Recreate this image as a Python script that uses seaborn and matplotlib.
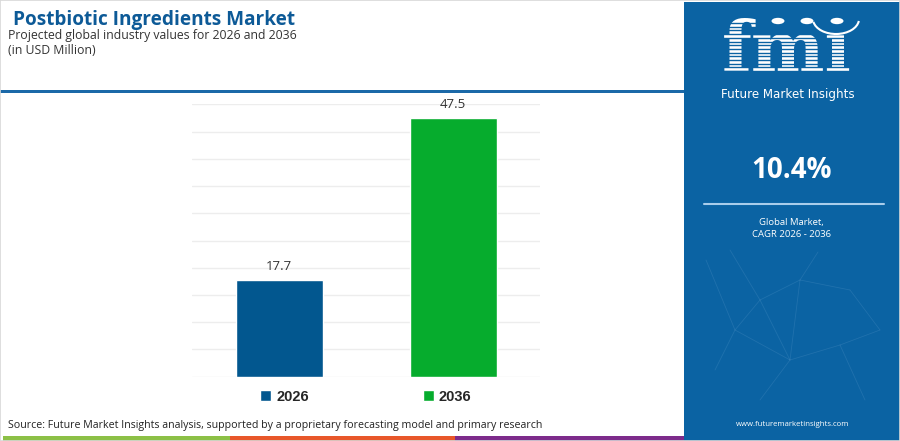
import matplotlib
matplotlib.use("Agg")
import matplotlib.pyplot as plt
import seaborn as sns
import pandas as pd
from matplotlib.patches import Rectangle, Circle, Arc
from matplotlib.lines import Line2D

# ---- data ----
years = ["2026", "2036"]
values = [17.7, 47.5]
bar_colors = ["#02578F", "#06AC2D"]
title = "Postbiotic Ingredients Market"
subtitle = "Projected global industry values for 2026 and 2036"
unit = "(in USD Million)"
cagr = "10.4%"
source = "Source: Future Market Insights analysis, supported by a proprietary forecasting model and primary research"

sns.set_theme(style="white")
plt.rcParams["font.family"] = ["Open Sans", "DejaVu Sans"]

W, H = 900, 441
fig = plt.figure(figsize=(9, 4.41), dpi=100)
fig.patch.set_facecolor("white")

def fx(px):
    return px / W

def fy(py):
    return 1 - py / H

# right panel
panel_col = "#0B63A3"
fig.add_artist(Rectangle((fx(684), 0), 1 - fx(684), fy(2), transform=fig.transFigure,
                         facecolor=panel_col, edgecolor="none", zorder=0))
# header separator line
fig.add_artist(Rectangle((0, fy(92.5)), fx(684), 3 / H, transform=fig.transFigure,
                         facecolor="#1B69A8", edgecolor="none", zorder=1))
# bottom color strip
for x0, x1, c in [(3, 230, "#8CC046"), (230, 455, "#E8572A"), (455, 684, "#7D2B8B")]:
    fig.add_artist(Rectangle((fx(x0), 0), fx(x1 - x0), 5 / H, transform=fig.transFigure,
                             facecolor=c, edgecolor="none", zorder=1))
# light border
fig.add_artist(Rectangle((0, 0), 1, 1, transform=fig.transFigure, facecolor="none",
                         edgecolor="#D8D8D8", linewidth=1.2, zorder=5))

# titles
fig.text(fx(13), fy(20), title, fontsize=13.7, fontweight="bold", color="#0D5A97",
         va="center", ha="left")
fig.text(fx(8), fy(35), subtitle, fontsize=8.8, color="#333333", va="center", ha="left")
fig.text(fx(8), fy(51), unit, fontsize=8.8, color="#333333", va="center", ha="left")

# ---- bar chart ----
ax = fig.add_axes([fx(192), 1 - 376.7 / H, fx(348), (376.7 - 104.3) / H])
df = pd.DataFrame({"year": years, "value": values})
sns.barplot(data=df, x="year", y="value", hue="year", palette=bar_colors, width=0.5,
            ax=ax, legend=True, saturation=1)
ax.set_ylim(0, 50)
ax.set_xlim(-0.5, 1.5)
ax.set_yticks(range(0, 51, 5))
ax.yaxis.grid(True, color="#EDEDED", linewidth=1)
ax.set_axisbelow(True)
for s in ax.spines.values():
    s.set_visible(False)
ax.set_xticks([])
ax.set_yticklabels([])
ax.tick_params(left=False, bottom=False)
ax.set_xlabel("")
ax.set_ylabel("")
for cont in ax.containers:
    ax.bar_label(cont, fmt="%.1f", padding=5, fontsize=9.5, color="#333333")

handles, labels = ax.get_legend_handles_labels()
ax.legend(handles, labels, loc="center", bbox_to_anchor=(0.5, (1 - 396.7 / H - (1 - 376.7 / H)) / ((376.7 - 104.3) / H)),
          ncol=2, frameon=False, handlelength=0.75, handleheight=0.75, handletextpad=0.35,
          columnspacing=7.8, prop={"family": "Liberation Sans", "weight": "bold", "size": 10.5})

fig.text(fx(8), fy(425.5), source, fontsize=7.7, color="#222222", va="center", ha="left")

# ---- right panel content ----
# network decoration
net = [((706, 260), (735, 330)), ((735, 330), (760, 300)), ((760, 300), (800, 280)),
       ((800, 280), (850, 290)), ((850, 290), (880, 330)), ((735, 330), (790, 360)),
       ((790, 360), (840, 345)), ((840, 345), (880, 330)), ((760, 300), (790, 360)),
       ((800, 280), (790, 360)), ((730, 250), (760, 300)), ((818, 252), (800, 280)),
       ((790, 360), (760, 400)), ((840, 345), (865, 400)), ((715, 370), (735, 330))]
for (a, b) in net:
    fig.add_artist(Line2D([fx(a[0]), fx(b[0])], [fy(a[1]), fy(b[1])], transform=fig.transFigure,
                          color="#5E9BCB", alpha=0.25, linewidth=0.6, zorder=1))

# fmi logo
fig.text(fx(787), fy(71), "fmı", fontsize=50, fontweight="bold", family="DejaVu Serif",
         color="white", ha="center", va="baseline", zorder=2)
for i in range(14):
    y = 23 + i * 3.7
    fig.add_artist(Line2D([fx(712), fx(862)], [fy(y), fy(y)], transform=fig.transFigure,
                          color=panel_col, linewidth=1.0, zorder=3))
for cx in (778, 807, 837):
    fig.add_artist(Circle((fx(cx), fy(21)), 0.0072, transform=fig.transFigure,
                          facecolor="white", edgecolor="none", zorder=4))
fig.add_artist(Arc((fx(836), fy(19)), fx(46), 30 / H, theta1=195, theta2=350,
                   transform=fig.transFigure, color="white", linewidth=1.5, zorder=4))
fig.text(fx(788), fy(94.5), "Future Market Insights", fontsize=8.6, color="white",
         ha="center", va="center", family="Liberation Sans Narrow", zorder=4)

fig.text(fx(792), fy(171), cagr, fontsize=20, fontweight="bold", color="white",
         ha="center", va="center")
fig.add_artist(Line2D([fx(704), fx(884)], [fy(203.5), fy(203.5)], transform=fig.transFigure,
                      color="#A9CDEB", linewidth=1.5, zorder=2))
fig.text(fx(791), fy(222), "Global Market,", fontsize=6.8, color="white", ha="center", va="center")
fig.text(fx(791), fy(234.5), "CAGR 2026 - 2036", fontsize=6.8, color="white", ha="center", va="center")
fig.text(fx(793), fy(425), "www.futuremarketinsights.com", fontsize=5.6, color="white",
         ha="center", va="center")

fig.savefig("out.png", dpi=100, facecolor="white")
